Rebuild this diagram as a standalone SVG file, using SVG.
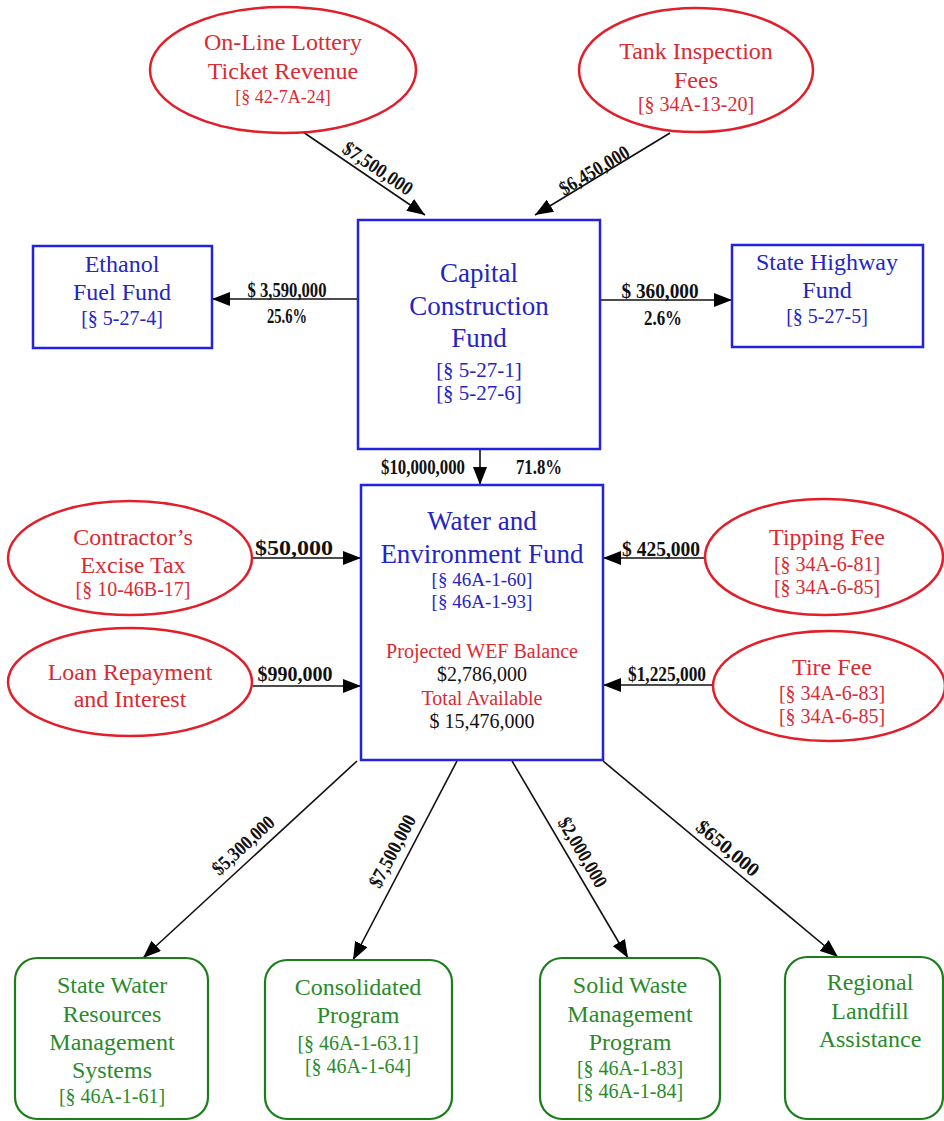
<svg xmlns="http://www.w3.org/2000/svg" width="944" height="1121" viewBox="0 0 944 1121">
<style>
text{font-family:"Liberation Serif","Times New Roman",serif;text-anchor:middle}
.src ellipse{fill:#fff;stroke:#e21e2a;stroke-width:2.5}
.src text{fill:#dc2a32}
.fund rect{fill:#fff;stroke:#2323dc;stroke-width:2.5}
.fund text{fill:#2424c8}
.prog rect{fill:#fff;stroke:#1d7d1d;stroke-width:2.2}
.prog text{fill:#2a8a2a}
.big{font-size:24px}
.sec{font-size:20px}
.huge{font-size:27px}
.blk{fill:#111 !important}
.red{fill:#dc2a32 !important}
#connectors line{stroke:#111;stroke-width:1.6;marker-end:url(#ah)}
.lbl{font-weight:bold;font-size:21px;fill:#111}
.rl{font-weight:bold;font-size:20px;fill:#111}
</style>
<defs>
<marker id="ah" markerUnits="userSpaceOnUse" markerWidth="18" markerHeight="14" refX="18" refY="7" orient="auto">
<path d="M0,0 L18,7 L0,14 z" fill="#000"/>
</marker>
</defs>
<rect width="944" height="1121" fill="#fff"/>

<g id="connectors">
<line x1="303" y1="132" x2="425" y2="215"/>
<line x1="670" y1="133" x2="535" y2="215"/>
<line x1="358" y1="299" x2="212" y2="299"/>
<line x1="600" y1="300" x2="732" y2="300"/>
<line x1="480" y1="449" x2="480" y2="485"/>
<line x1="252" y1="558" x2="361" y2="558"/>
<line x1="253" y1="686" x2="361" y2="686"/>
<line x1="705" y1="558" x2="603" y2="558"/>
<line x1="713" y1="685" x2="603" y2="685"/>
<line x1="357" y1="761" x2="143" y2="958"/>
<line x1="457" y1="761" x2="353" y2="960"/>
<line x1="512" y1="761" x2="628" y2="958"/>
<line x1="603" y1="761" x2="838" y2="957"/>
<g id="labels">
<text class="rl" transform="translate(378,168) rotate(34)" y="7" textLength="80" lengthAdjust="spacingAndGlyphs">$7,500,000</text>
<text class="rl" transform="translate(594,170) rotate(-30.6)" y="7" textLength="78" lengthAdjust="spacingAndGlyphs">$6,450,000</text>
<text class="rl" transform="translate(243,845) rotate(-42.5)" y="7" textLength="77" lengthAdjust="spacingAndGlyphs">$5,300,000</text>
<text class="rl" transform="translate(392,851) rotate(-62.2)" y="7" textLength="79" lengthAdjust="spacingAndGlyphs">$7,500,000</text>
<text class="rl" transform="translate(583,852) rotate(59.5)" y="7" textLength="78" lengthAdjust="spacingAndGlyphs">$2,000,000</text>
<text class="rl" transform="translate(728,848) rotate(40)" y="7" textLength="76" lengthAdjust="spacingAndGlyphs">$650,000</text>
<text class="lbl" x="287" y="297" textLength="79" lengthAdjust="spacingAndGlyphs">$ 3,590,000</text>
<text class="lbl" x="287" y="323" textLength="40" lengthAdjust="spacingAndGlyphs">25.6%</text>
<text class="lbl" x="660" y="298" textLength="77" lengthAdjust="spacingAndGlyphs">$ 360,000</text>
<text class="lbl" x="663" y="325" textLength="38" lengthAdjust="spacingAndGlyphs">2.6%</text>
<text class="lbl" x="423" y="474" textLength="84" lengthAdjust="spacingAndGlyphs">$10,000,000</text>
<text class="lbl" x="539" y="474" textLength="46" lengthAdjust="spacingAndGlyphs">71.8%</text>
<text class="lbl" x="294" y="555" textLength="78" lengthAdjust="spacingAndGlyphs">$50,000</text>
<text class="lbl" x="295" y="681" textLength="75" lengthAdjust="spacingAndGlyphs">$990,000</text>
<text class="lbl" x="661" y="556" textLength="78" lengthAdjust="spacingAndGlyphs">$ 425,000</text>
<text class="lbl" x="667" y="681" textLength="78" lengthAdjust="spacingAndGlyphs">$1,225,000</text>
</g>
</g>

<g id="lottery" class="src">
<ellipse cx="283" cy="70" rx="133" ry="63"/>
<text class="big" x="283" y="50">On-Line Lottery</text>
<text class="big" x="283" y="79">Ticket Revenue</text>
<text x="283" y="103" font-size="18">[§ 42-7A-24]</text>
</g>

<g id="tank" class="src">
<ellipse cx="696" cy="70" rx="117" ry="62"/>
<text class="big" x="696" y="59">Tank Inspection</text>
<text class="big" x="696" y="88">Fees</text>
<text class="sec" x="696" y="111">[§ 34A-13-20]</text>
</g>

<g id="capital" class="fund">
<rect x="358" y="220" width="242" height="229"/>
<text class="huge" x="479" y="282">Capital</text>
<text class="huge" x="479" y="315">Construction</text>
<text class="huge" x="479" y="347">Fund</text>
<text x="479" y="377" font-size="21">[§ 5-27-1]</text>
<text x="479" y="400" font-size="21">[§ 5-27-6]</text>
</g>

<g id="ethanol" class="fund">
<rect x="33" y="246" width="179" height="102"/>
<text class="big" x="122" y="272">Ethanol</text>
<text class="big" x="122" y="300">Fuel Fund</text>
<text class="sec" x="122" y="325">[§ 5-27-4]</text>
</g>

<g id="highway" class="fund">
<rect x="732" y="245" width="191" height="102"/>
<text class="big" x="827" y="270">State Highway</text>
<text class="big" x="827" y="298">Fund</text>
<text class="sec" x="827" y="323">[§ 5-27-5]</text>
</g>

<g id="wef" class="fund">
<rect x="361" y="485" width="242" height="275"/>
<text class="huge" x="482" y="530">Water and</text>
<text class="huge" x="482" y="563">Environment Fund</text>
<text x="482" y="586" font-size="19">[§ 46A-1-60]</text>
<text x="482" y="608" font-size="19">[§ 46A-1-93]</text>
<text x="482" y="658" font-size="20" class="red">Projected WEF Balance</text>
<text x="482" y="681" font-size="20" class="blk">$2,786,000</text>
<text x="482" y="705" font-size="20" class="red">Total Available</text>
<text x="482" y="728" font-size="20" class="blk">$ 15,476,000</text>
</g>

<g id="contractor" class="src">
<ellipse cx="130" cy="558" rx="122" ry="57"/>
<text class="big" x="133" y="545">Contractor’s</text>
<text class="big" x="133" y="573">Excise Tax</text>
<text class="sec" x="133" y="596">[§ 10-46B-17]</text>
</g>

<g id="loan" class="src">
<ellipse cx="130" cy="682" rx="122" ry="54"/>
<text class="big" x="130" y="680">Loan Repayment</text>
<text class="big" x="130" y="707">and Interest</text>
</g>

<g id="tipping" class="src">
<ellipse cx="824" cy="557" rx="119" ry="58"/>
<text class="big" x="827" y="545">Tipping Fee</text>
<text class="sec" x="827" y="571">[§ 34A-6-81]</text>
<text class="sec" x="827" y="594">[§ 34A-6-85]</text>
</g>

<g id="tire" class="src">
<ellipse cx="829" cy="686" rx="116" ry="55"/>
<text class="big" x="832" y="675">Tire Fee</text>
<text class="sec" x="832" y="700">[§ 34A-6-83]</text>
<text class="sec" x="832" y="723">[§ 34A-6-85]</text>
</g>

<g id="statewater" class="prog">
<rect x="15" y="958" width="193" height="161" rx="22"/>
<text class="big" x="112" y="993">State Water</text>
<text class="big" x="112" y="1022">Resources</text>
<text class="big" x="112" y="1050">Management</text>
<text class="big" x="112" y="1078">Systems</text>
<text class="sec" x="112" y="1103">[§ 46A-1-61]</text>
</g>

<g id="consolidated" class="prog">
<rect x="265" y="960" width="187" height="159" rx="22"/>
<text class="big" x="358" y="995">Consolidated</text>
<text class="big" x="358" y="1023">Program</text>
<text class="sec" x="358" y="1050">[§ 46A-1-63.1]</text>
<text class="sec" x="358" y="1073">[§ 46A-1-64]</text>
</g>

<g id="solidwaste" class="prog">
<rect x="540" y="958" width="180" height="161" rx="22"/>
<text class="big" x="630" y="993">Solid Waste</text>
<text class="big" x="630" y="1022">Management</text>
<text class="big" x="630" y="1050">Program</text>
<text class="sec" x="630" y="1075">[§ 46A-1-83]</text>
<text class="sec" x="630" y="1098">[§ 46A-1-84]</text>
</g>

<g id="regional" class="prog">
<rect x="785" y="957" width="158" height="162" rx="22"/>
<text class="big" x="870" y="990">Regional</text>
<text class="big" x="870" y="1019">Landfill</text>
<text class="big" x="870" y="1047">Assistance</text>
</g>
</svg>
